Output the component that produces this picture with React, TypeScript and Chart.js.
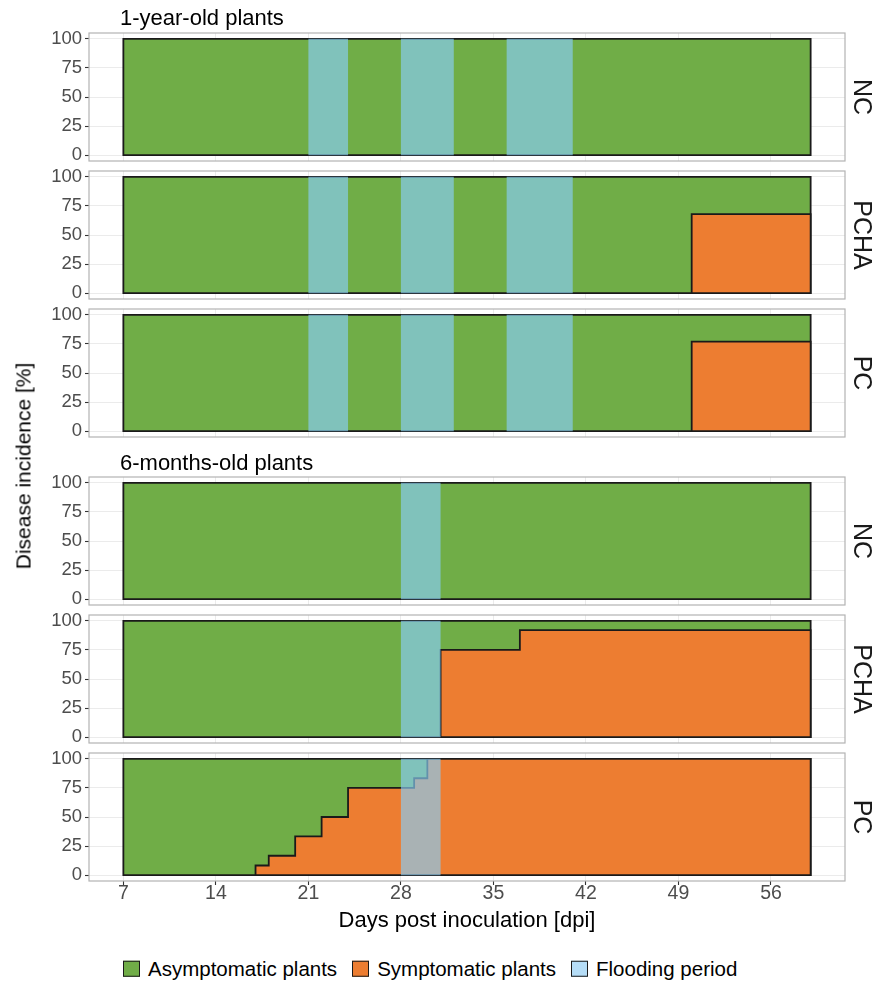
import React, { useEffect, useRef } from "react";
import { Chart, registerables } from "chart.js";

Chart.register(...registerables);

// ---------- data ----------
const xTicks = [7, 14, 21, 28, 35, 42, 49, 56];
const yTicks = [0, 25, 50, 75, 100];
const xMin = 4.4;
const xMax = 61.6;
const dayStart = 7;
const dayEnd = 59;
const totalPlants = 100;

const groupTitles = ["1-year-old plants", "6-months-old plants"];
const treatments = ["NC", "PCHA", "PC"];

// flooding periods (start day, end day)
const floodStartOld = [21, 28, 36];
const floodEndOld = [24, 32, 41];
const floodStartYoung = [28];
const floodEndYoung = [31];

// symptomatic plants: day the level starts, level (%)
const oldNcDays: number[] = [];
const oldNcValues: number[] = [];
const oldPchaDays = [50];
const oldPchaValues = [68];
const oldPcDays = [50];
const oldPcValues = [77];
const youngNcDays: number[] = [];
const youngNcValues: number[] = [];
const youngPchaDays = [31, 37];
const youngPchaValues = [75, 92];
const youngPcDays = [17, 18, 20, 22, 24, 29, 30];
const youngPcValues = [8.3, 16.7, 33.3, 50, 75, 83.3, 100];

const legendLabels = ["Asymptomatic plants", "Symptomatic plants", "Flooding period"];
const xTitle = "Days post inoculation [dpi]";
const yTitle = "Disease incidence [%]";

// ---------- style ----------
const FONT = "'Liberation Sans', Arial, Helvetica, sans-serif";
const GREEN = "#70AD47";
const ORANGE = "#ED7D31";
const FLOOD = "rgba(136,204,244,0.67)";
const FLOOD_KEY = "#B5DDF7";
const OUTLINE = "#1a1a1a";
const PANEL_H = 128;
const PAD = 15;
const X_AXIS_H = 53;
const panelTops = [33, 171, 309, 477, 615, 753];

type Panel = {
  top: number;
  label: string;
  days: number[];
  values: number[];
  floodStart: number[];
  floodEnd: number[];
  bottom: boolean;
};

const panels: Panel[] = [
  { top: panelTops[0], label: treatments[0], days: oldNcDays, values: oldNcValues, floodStart: floodStartOld, floodEnd: floodEndOld, bottom: false },
  { top: panelTops[1], label: treatments[1], days: oldPchaDays, values: oldPchaValues, floodStart: floodStartOld, floodEnd: floodEndOld, bottom: false },
  { top: panelTops[2], label: treatments[2], days: oldPcDays, values: oldPcValues, floodStart: floodStartOld, floodEnd: floodEndOld, bottom: false },
  { top: panelTops[3], label: treatments[0], days: youngNcDays, values: youngNcValues, floodStart: floodStartYoung, floodEnd: floodEndYoung, bottom: false },
  { top: panelTops[4], label: treatments[1], days: youngPchaDays, values: youngPchaValues, floodStart: floodStartYoung, floodEnd: floodEndYoung, bottom: false },
  { top: panelTops[5], label: treatments[2], days: youngPcDays, values: youngPcValues, floodStart: floodStartYoung, floodEnd: floodEndYoung, bottom: true },
];

// closed step polygon from arrays (value v_i holds from day d_i to next day)
function stepPolygon(days: number[], values: number[]) {
  const pts: { x: number; y: number }[] = [{ x: days[0], y: 0 }];
  days.forEach((d, i) => pts.push({ x: d, y: values[i] }));
  pts.push({ x: dayEnd, y: values[values.length - 1] });
  pts.push({ x: dayEnd, y: 0 });
  pts.push({ x: days[0], y: 0 });
  return pts;
}

const panelBorder = {
  id: "panelBorder",
  afterDatasetsDraw(chart: any) {
    const { ctx, chartArea: a } = chart;
    ctx.save();
    ctx.strokeStyle = "#b3b3b3";
    ctx.lineWidth = 1.2;
    ctx.strokeRect(a.left, a.top, a.right - a.left, a.bottom - a.top);
    ctx.restore();
  },
};

function PanelChart({ panel }: { panel: Panel }) {
  const ref = useRef<HTMLCanvasElement>(null);
  const h = PAD + PANEL_H + (panel.bottom ? X_AXIS_H : PAD);

  useEffect(() => {
    const datasets: any[] = [];
    datasets.push({
      label: legendLabels[0],
      data: stepPolygon([dayStart], [totalPlants]),
      backgroundColor: GREEN,
      borderColor: OUTLINE,
      borderWidth: 1.8,
      stepped: "before",
      fill: "shape",
      order: 3,
    });
    if (panel.days.length) {
      datasets.push({
        label: legendLabels[1],
        data: stepPolygon(panel.days, panel.values),
        backgroundColor: ORANGE,
        borderColor: OUTLINE,
        borderWidth: 1.8,
        stepped: "before",
        fill: "shape",
        order: 2,
      });
    }
    panel.floodStart.forEach((s, i) => {
      const e = panel.floodEnd[i];
      datasets.push({
        label: legendLabels[2],
        data: [
          { x: s, y: 0 },
          { x: s, y: totalPlants },
          { x: e, y: totalPlants },
          { x: e, y: 0 },
          { x: s, y: 0 },
        ],
        backgroundColor: FLOOD,
        borderColor: "rgba(0,0,0,0)",
        borderWidth: 0,
        fill: "shape",
        order: 1,
      });
    });

    const chart = new Chart(ref.current as HTMLCanvasElement, {
      type: "line",
      data: { datasets },
      options: {
        responsive: false,
        animation: false,
        events: [],
        layout: { padding: { top: PAD, bottom: panel.bottom ? 0 : PAD, left: 0, right: 32 } },
        elements: {
          point: { radius: 0, hoverRadius: 0 },
          line: { borderJoinStyle: "miter", borderCapStyle: "square", tension: 0 },
        },
        plugins: { legend: { display: false }, tooltip: { enabled: false }, title: { display: false } },
        scales: {
          x: {
            type: "linear",
            min: xMin,
            max: xMax,
            afterBuildTicks: (s: any) => {
              s.ticks = xTicks.map((v) => ({ value: v }));
            },
            afterFit: (s: any) => {
              s.height = panel.bottom ? X_AXIS_H : 0;
            },
            border: { display: false },
            grid: {
              color: "#ebebeb",
              lineWidth: 1,
              drawTicks: panel.bottom,
              tickLength: 4,
              tickColor: "#333333",
              tickWidth: 1.1,
            },
            ticks: {
              display: panel.bottom,
              maxRotation: 0,
              autoSkip: false,
              padding: -1,
              color: "#4d4d4d",
              font: { family: FONT, size: 19.5, lineHeight: 1 },
            },
            title: {
              display: panel.bottom,
              text: xTitle,
              color: "#000",
              padding: { top: 0, bottom: 0 },
              font: { family: FONT, size: 22 },
            },
          },
          y: {
            type: "linear",
            min: -5,
            max: 105,
            afterBuildTicks: (s: any) => {
              s.ticks = yTicks.map((v) => ({ value: v }));
            },
            afterFit: (s: any) => {
              s.width = 89;
            },
            border: { display: false },
            grid: {
              color: "#ebebeb",
              lineWidth: 1,
              drawTicks: true,
              tickLength: 4,
              tickColor: "#333333",
              tickWidth: 1.1,
            },
            ticks: {
              padding: 3,
              color: "#4d4d4d",
              font: { family: FONT, size: 18.5 },
            },
          },
        },
      } as any,
      plugins: [panelBorder],
    });
    return () => chart.destroy();
  }, [panel]);

  return (
    <canvas
      ref={ref}
      width={877}
      height={h}
      style={{ position: "absolute", left: 0, top: panel.top - PAD, width: 877, height: h, display: "block" }}
    />
  );
}

function Text({
  x,
  y,
  size,
  rotate = 0,
  center = true,
  color = "#000",
  children,
}: {
  x: number;
  y: number;
  size: number;
  rotate?: number;
  center?: boolean;
  color?: string;
  children: React.ReactNode;
}) {
  return (
    <div
      style={{
        position: "absolute",
        left: x,
        top: y,
        fontSize: size,
        lineHeight: 1,
        whiteSpace: "nowrap",
        color,
        transform: `translate(${center ? "-50%" : "0"}, -50%) rotate(${rotate}deg)`,
      }}
    >
      {children}
    </div>
  );
}

export default function App() {
  const legendColors = [GREEN, ORANGE, FLOOD_KEY];
  return (
    <div
      style={{
        position: "absolute",
        left: 0,
        top: 0,
        width: 877,
        height: 984,
        background: "#fff",
        fontFamily: FONT,
        overflow: "hidden",
      }}
    >
      {panels.map((p, i) => (
        <PanelChart key={i} panel={p} />
      ))}
      <Text x={120} y={17.5} size={22} center={false}>
        {groupTitles[0]}
      </Text>
      <Text x={120} y={463} size={22} center={false}>
        {groupTitles[1]}
      </Text>
      {panels.map((p, i) => (
        <Text key={"s" + i} x={862} y={p.top + PANEL_H / 2} size={25} rotate={90} color="#1a1a1a">
          {p.label}
        </Text>
      ))}
      <Text x={22.5} y={466} size={21} rotate={-90}>
        {yTitle}
      </Text>
      <div
        style={{
          position: "absolute",
          left: 123,
          top: 969,
          transform: "translateY(-50%)",
          display: "flex",
          alignItems: "center",
          fontSize: 20.5,
          lineHeight: 1,
          whiteSpace: "nowrap",
          color: "#000",
        }}
      >
        {legendLabels.map((l, i) => (
          <div key={l} style={{ display: "flex", alignItems: "center", marginRight: 15 }}>
            <span
              style={{
                display: "inline-block",
                width: 17,
                height: 16,
                boxSizing: "border-box",
                border: "1.4px solid #1a1a1a",
                background: legendColors[i],
                marginRight: 8,
              }}
            />
            <span>{l}</span>
          </div>
        ))}
      </div>
    </div>
  );
}
